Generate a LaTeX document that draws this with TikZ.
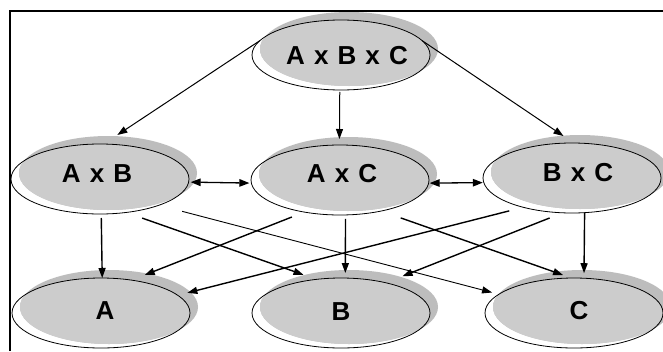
\documentclass[tikz,border=0pt]{standalone}
\usepackage{fontspec}
\setmainfont{Liberation Sans}
\usetikzlibrary{shapes.geometric,arrows.meta,calc}
\definecolor{shgray}{HTML}{BDBDBD}
\definecolor{ingray}{HTML}{CCCCCC}
\newcommand{\gp}{\hspace{0.35em}}
\begin{document}
\begin{tikzpicture}[x=1pt,y=-1pt,
  ell/.style={ellipse,minimum width=178pt,minimum height=70pt,inner sep=0pt,outer sep=0pt},
  lbl/.style={font=\fontsize{26}{30}\selectfont\bfseries,inner sep=0pt},
  tip/.style={-{Triangle[length=10pt,width=7pt]}},
  conn/.style={line width=1.4pt,tip},
  topconn/.style={line width=1pt,tip},
  thinconn/.style={line width=0.9pt,tip},
  dconn/.style={line width=1.3pt,{Triangle[length=10pt,width=7.5pt]}-{Triangle[length=10pt,width=7.5pt]}}
]
\useasboundingbox (0,0) rectangle (663,351);
\fill[white] (0,0) rectangle (663,351);
% frame
\draw[line width=1.8pt] (10.2,351) -- (10.2,10.6) -- (663,10.6);
% nodes
\node[ell] (ABC) at (341,55) {};
\node[ell] (AB) at (100,179) {};
\node[ell] (AC) at (340,180) {};
\node[ell] (BC) at (572,178) {};
\node[ell] (A) at (101,313) {};
\node[ell] (B) at (341,313) {};
\node[ell] (C) at (574,313) {};
\foreach \n in {ABC,AB,AC,BC,A,B,C}{
  \fill[white] (\n.center) ellipse [x radius=89pt,y radius=35pt];
  \fill[shgray] ($(\n.center)+(8,-6)$) ellipse [x radius=89pt,y radius=37pt];
  \begin{scope}
    \clip (\n.center) ellipse [x radius=89pt,y radius=35pt];
    \fill[ingray] ($(\n.center)+(8,-6)$) ellipse [x radius=89pt,y radius=37pt];
  \end{scope}
  \draw[line width=0.8pt] (\n.center) ellipse [x radius=89pt,y radius=35pt];
}
% labels
\node[lbl] (ABCt) at (347,56) {A\gp x\gp B\gp x\gp C};
\node[lbl] (ABt) at (97,174) {A\gp x\gp B};
\node[lbl] (ACt) at (342,174) {A\gp x\gp C};
\node[lbl] (BCt) at (578,173) {B\gp x\gp C};
\node[lbl] (At) at (105,311) {A};
\node[lbl] (Bt) at (341,312) {B};
\node[lbl] (Ct) at (579,311) {C};
% connectors
\draw[topconn, shorten >=16.4pt] (ABC.170) -- (AB.84.6);
\draw[topconn, shorten <=2pt, shorten >=6pt] (ABC.-92) -- (AC.91);
\draw[topconn, shorten >=12.5pt] (ABC.10) -- (BC.87.8);
\draw[dconn, shorten <=2pt, shorten >=2pt] (AB.-2.5) -- (AC.182);
\draw[dconn, shorten <=1pt, shorten >=1pt] (AC.-2) -- (BC.183);
\draw[conn, shorten <=4pt] (AB.-88) -- (A.88);
\draw[conn, shorten <=17pt, shorten >=13.8pt] (AB.-52) -- (B.126.7);
\draw[thinconn, shorten <=24pt, shorten >=7pt] (AB.-24.6) -- (C.166.55);
\draw[conn, shorten <=13.4pt, shorten >=14pt] (AC.222.1) -- (A.47.6);
\draw[conn, shorten <=4pt, shorten >=5pt] (AC.-81) -- (B.83);
\draw[conn, shorten <=20.7pt, shorten >=9pt] (AC.-37.6) -- (C.94.1);
\draw[conn, shorten <=14.5pt, shorten >=9.9pt] (BC.211.6) -- (A.13.86);
\draw[conn, shorten <=14pt, shorten >=18pt] (BC.255.7) -- (B.34.5);
\draw[conn, shorten >=5pt] (BC.-70.9) -- (C.74);
\end{tikzpicture}
\end{document}
